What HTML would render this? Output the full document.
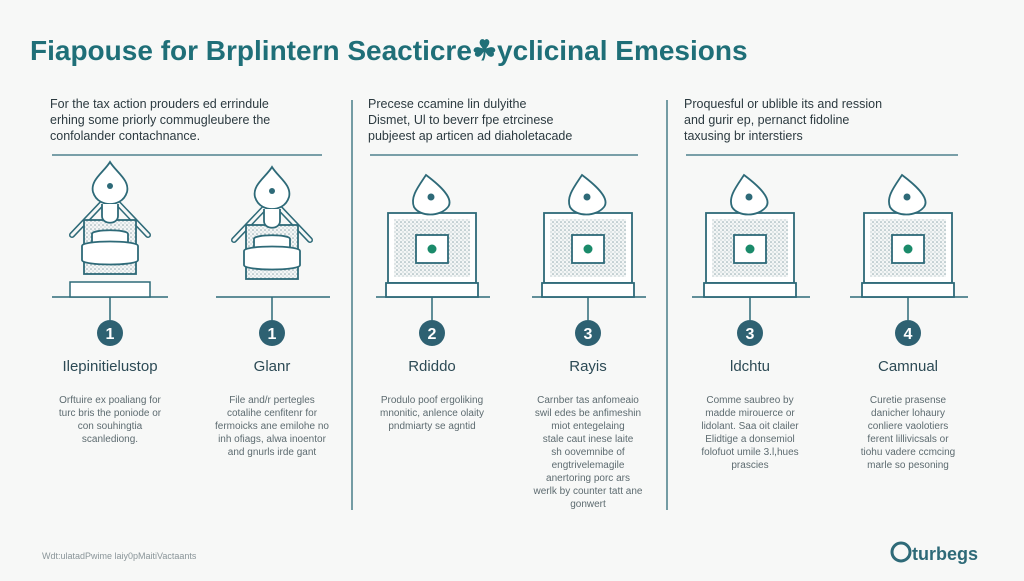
<!DOCTYPE html>
<html><head><meta charset="utf-8"><style>
body{margin:0;width:1024px;height:576px;background:#f7f8f7;overflow:hidden;font-family:"Liberation Sans",sans-serif}
svg text{font-family:"Liberation Sans",sans-serif}
</style></head><body>
<svg width="1024" height="576" viewBox="0 0 1024 576">
<defs>
<pattern id="dots" width="4" height="4" patternUnits="userSpaceOnUse"><rect width="4" height="4" fill="#f4f6f6"/><circle cx="1" cy="1" r="0.8" fill="#8fa9ae"/><circle cx="3" cy="3" r="0.6" fill="#a9bcc0"/></pattern>
<g id="house">
<path d="M-38,-45 L0,-85 L38,-45" fill="none" stroke="#2e6a78" stroke-width="6" stroke-linecap="round"/>
<path d="M-38,-45 L0,-85 L38,-45" fill="none" stroke="#f7f8f7" stroke-width="3" stroke-linecap="round"/>
<rect x="-26" y="-60" width="52" height="54" fill="url(#dots)" stroke="#2e6a78" stroke-width="1.8"/>
<path d="M0,-118 C-6,-108 -20,-100 -17,-88 C-14,-78 -5,-76 0,-76 C5,-76 14,-78 17,-88 C20,-100 6,-108 0,-118Z" fill="#fff" stroke="#2e6a78" stroke-width="1.8"/>
<circle cx="0" cy="-94" r="3" fill="#2e6a78"/>
<path d="M-8,-76 L-8,-64 C-8,-55 8,-55 8,-64 L8,-76" fill="#fff" stroke="#2e6a78" stroke-width="1.8"/>
<path d="M-18,-46 C-18,-51 18,-51 18,-46 L18,-36 L-18,-36Z" fill="#fff" stroke="#2e6a78" stroke-width="1.8"/>
<path d="M-28,-34 C-28,-40 28,-40 28,-34 L28,-20 C28,-14 -28,-14 -28,-20Z" fill="#fff" stroke="#2e6a78" stroke-width="1.8"/>
</g>
<g id="box">
<rect x="-44" y="-80" width="88" height="70" fill="#fff" stroke="#2e6a78" stroke-width="1.8"/>
<rect x="-38" y="-74" width="76" height="58" fill="url(#dots)"/>
<rect x="-16" y="-58" width="32" height="28" fill="#fff" stroke="#2e6a78" stroke-width="1.8"/>
<circle cx="0" cy="-44" r="4.5" fill="#1a8a6a"/>
<rect x="-46" y="-10" width="92" height="14" fill="#fff" stroke="#2e6a78" stroke-width="1.8"/>
<path d="M-6,-118 C-14,-106 -22,-96 -18,-86 C-12,-76 8,-76 16,-86 C22,-94 10,-106 -6,-118Z" fill="#fff" stroke="#2e6a78" stroke-width="1.8"/>
<circle cx="-1" cy="-96" r="3.5" fill="#2e6a78"/>
</g>
</defs>
<text x="30" y="60" font-size="28" font-weight="bold" fill="#1f6f78">Fiapouse for Brplintern Seacticre&#x2618;yclicinal Emesions</text>
<g font-size="12.5" fill="#2c3a40">
<text x="50" y="108">For the tax action prouders ed errindule</text>
<text x="50" y="124">erhing some priorly commugleubere the</text>
<text x="50" y="140">confolander contachnance.</text>
<text x="368" y="108">Precese ccamine lin dulyithe</text>
<text x="368" y="124">Dismet, Ul to beverr fpe etrcinese</text>
<text x="368" y="140">pubjeest ap articen ad diaholetacade</text>
<text x="684" y="108">Proquesful or ublible its and ression</text>
<text x="684" y="124">and gurir ep, pernanct fidoline</text>
<text x="684" y="140">taxusing br interstiers</text>
</g>
<g stroke="#2e6a78" stroke-width="1.3">
<line x1="52" y1="155" x2="322" y2="155"/>
<line x1="370" y1="155" x2="638" y2="155"/>
<line x1="686" y1="155" x2="958" y2="155"/>
<line x1="352" y1="100" x2="352" y2="510"/>
<line x1="667" y1="100" x2="667" y2="510"/>
</g>
<g stroke="#2e6a78" stroke-width="1.5">
<line x1="52" y1="297" x2="168" y2="297"/><line x1="216" y1="297" x2="330" y2="297"/>
<line x1="376" y1="297" x2="490" y2="297"/><line x1="532" y1="297" x2="646" y2="297"/>
<line x1="692" y1="297" x2="810" y2="297"/><line x1="850" y1="297" x2="968" y2="297"/>
</g>
<use href="#house" x="110" y="280"/>
<rect x="70" y="282" width="80" height="15" fill="#fff" stroke="#2e6a78" stroke-width="1.5"/>
<use href="#house" x="272" y="285"/>
<use href="#box" x="432" y="293"/>
<use href="#box" x="588" y="293"/>
<use href="#box" x="750" y="293"/>
<use href="#box" x="908" y="293"/>
<g stroke="#2e6a78" stroke-width="1.5">
<line x1="110" y1="297" x2="110" y2="320"/><line x1="272" y1="297" x2="272" y2="320"/>
<line x1="432" y1="297" x2="432" y2="320"/><line x1="588" y1="297" x2="588" y2="320"/>
<line x1="750" y1="297" x2="750" y2="320"/><line x1="908" y1="297" x2="908" y2="320"/>
</g>
<g fill="#2e6172">
<circle cx="110" cy="333" r="13"/><circle cx="272" cy="333" r="13"/><circle cx="432" cy="333" r="13"/>
<circle cx="588" cy="333" r="13"/><circle cx="750" cy="333" r="13"/><circle cx="908" cy="333" r="13"/>
</g>
<g fill="#fff" font-size="16" font-weight="bold" text-anchor="middle">
<text x="110" y="339">1</text><text x="272" y="339">1</text><text x="432" y="339">2</text>
<text x="588" y="339">3</text><text x="750" y="339">3</text><text x="908" y="339">4</text>
</g>
<g fill="#2c4a55" font-size="15" text-anchor="middle">
<text x="110" y="371">Ilepinitielustop</text><text x="272" y="371">Glanr</text><text x="432" y="371">Rdiddo</text>
<text x="588" y="371">Rayis</text><text x="750" y="371">ldchtu</text><text x="908" y="371">Camnual</text>
</g>
<g fill="#5d6b70" font-size="10" text-anchor="middle">
<text x="110" y="403">Orftuire ex poaliang for</text><text x="110" y="416">turc bris the poniode or</text><text x="110" y="429">con souhingtia</text><text x="110" y="442">scanlediong.</text>
<text x="272" y="403">File and/r pertegles</text><text x="272" y="416">cotalihe cenfitenr for</text><text x="272" y="429">fermoicks ane emilohe no</text><text x="272" y="442">inh ofiags, alwa inoentor</text><text x="272" y="455">and gnurls irde gant</text>
<text x="432" y="403">Produlo poof ergoliking</text><text x="432" y="416">mnonitic, anlence olaity</text><text x="432" y="429">pndmiarty se agntid</text>
<text x="588" y="403">Carnber tas anfomeaio</text><text x="588" y="416">swil edes be anfimeshin</text><text x="588" y="429">miot entegelaing</text><text x="588" y="442">stale caut inese laite</text><text x="588" y="455">sh oovemnibe of</text><text x="588" y="468">engtrivelemagile</text><text x="588" y="481">anertoring porc ars</text><text x="588" y="494">werlk by counter tatt ane</text><text x="588" y="507">gonwert</text>
<text x="750" y="403">Comme saubreo by</text><text x="750" y="416">madde mirouerce or</text><text x="750" y="429">lidolant. Saa oit clailer</text><text x="750" y="442">Elidtige a donsemiol</text><text x="750" y="455">folofuot umile 3.l,hues</text><text x="750" y="468">prascies</text>
<text x="908" y="403">Curetie prasense</text><text x="908" y="416">danicher lohaury</text><text x="908" y="429">conliere vaolotiers</text><text x="908" y="442">ferent lillivicsals or</text><text x="908" y="455">tiohu vadere ccmcing</text><text x="908" y="468">marle so pesoning</text>
</g>
<text x="42" y="559" font-size="9" fill="#8a9599">Wdt:ulatadPwime laiy0pMaitiVactaants</text>
<circle cx="901" cy="552" r="9" fill="none" stroke="#2e6a78" stroke-width="3"/>
<text x="912" y="560" font-size="18" font-weight="bold" fill="#2e6a78">turbegs</text>
</svg>
</body></html>
